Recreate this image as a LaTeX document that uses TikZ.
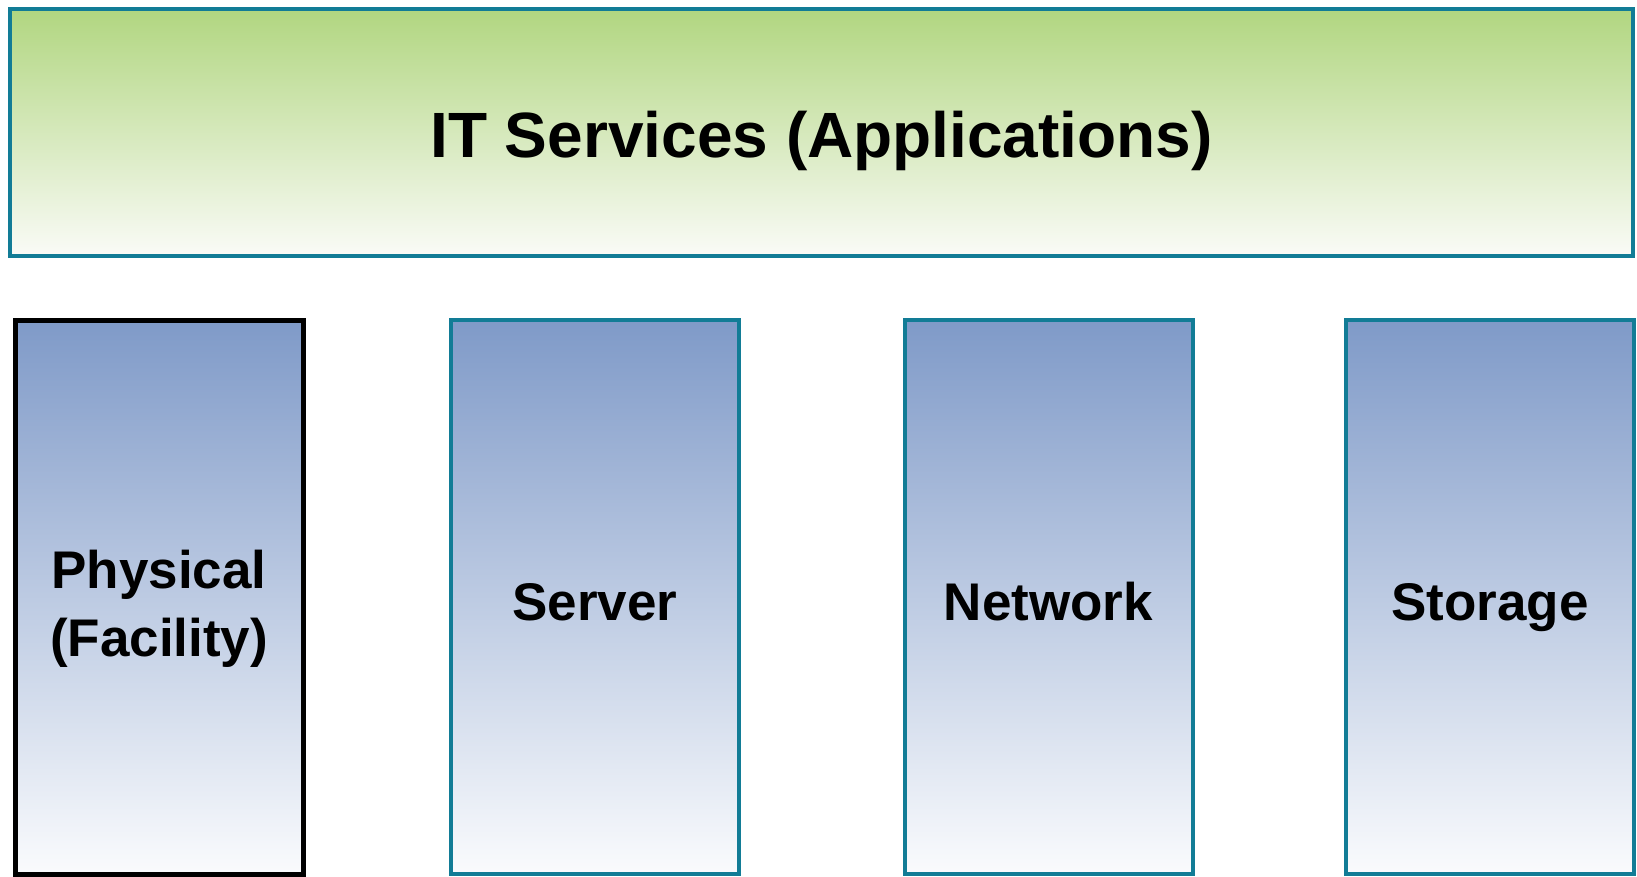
\documentclass[tikz,border=0pt]{standalone}
\usepackage{fontspec}
\setmainfont{Liberation Sans}

\definecolor{bordeazul}{RGB}{18,124,150}
\definecolor{verdearr}{RGB}{177,214,128}
\definecolor{verdeab}{RGB}{250,251,247}
\definecolor{azularr}{RGB}{127,154,200}
\definecolor{azulab}{RGB}{250,251,253}

\tikzset{
  servicios/.style={draw=bordeazul, line width=4pt, top color=verdearr,
    bottom color=verdeab, middle color=verdearr!50!verdeab,
    minimum width=1623pt, minimum height=247pt,
    text height=49pt, text depth=0pt,
    font=\fontsize{64}{77}\selectfont\bfseries},
  pilar/.style={draw=bordeazul, line width=4pt, top color=azularr,
    bottom color=azulab, minimum width=288pt, minimum height=554pt,
    align=center, text height=46pt, text depth=0pt,
    font=\fontsize{53}{68}\selectfont\bfseries}
}

\begin{document}
\begin{tikzpicture}[x=1pt, y=-1pt]

  % Marco de la figura
  \useasboundingbox (0,0) rectangle (1637,876);

  % Capa superior
  \node[servicios] (it) at (821.5,132.5) {IT Services (Applications)};

  % Pilares de infraestructura
  \node[pilar, draw=black, line width=5pt, text height=118pt]
    (fisico) at (159,597) {Physical\\(Facility)};
  \node[pilar] (servidor) at (595,597) {Server};
  \node[pilar] (red)      at (1048.5,597) {Network};
  \node[pilar] (almacen)  at (1490,597) {Storage};

\end{tikzpicture}
\end{document}
